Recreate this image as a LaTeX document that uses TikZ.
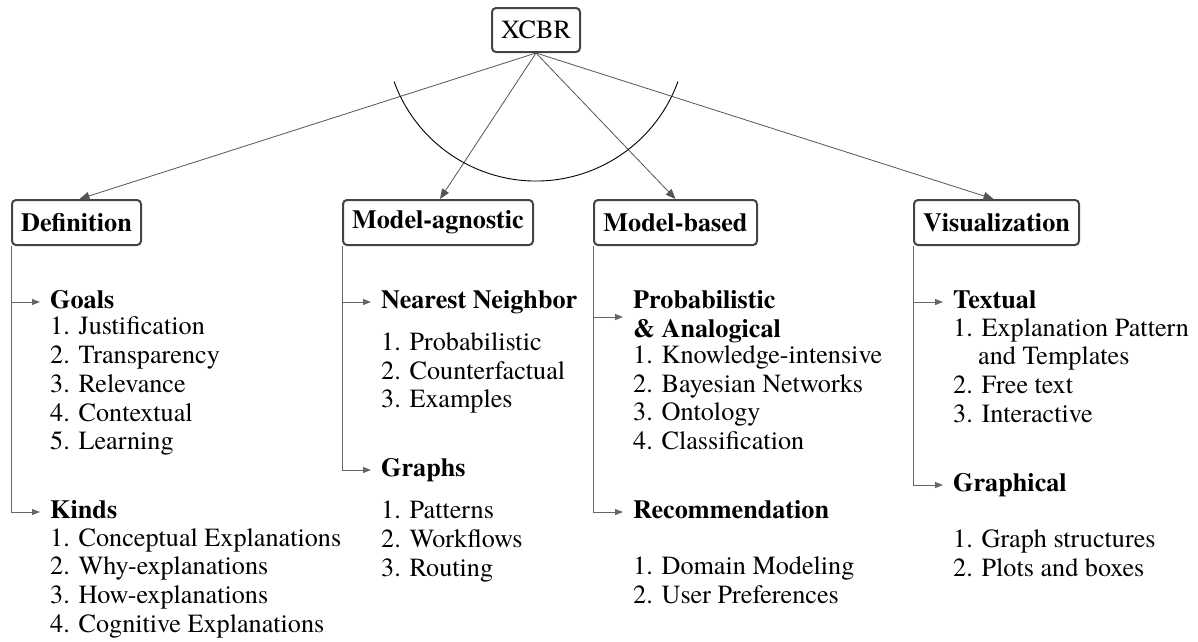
\documentclass[tikz,border=0pt]{standalone}
\usepackage{fontspec}
\setmainfont{TeX Gyre Termes}
\usetikzlibrary{arrows.meta}
\definecolor{boxc}{HTML}{444444}
\definecolor{linec}{HTML}{555555}
\definecolor{branchc}{HTML}{666666}
\newcommand{\dfont}{\fontsize{26.2}{28.7}\selectfont}
\begin{document}
\begin{tikzpicture}[x=1pt,y=-1pt,
  every node/.style={font=\dfont},
  cat/.style={draw=boxc, line width=2pt, rounded corners=4pt, minimum height=45pt, inner sep=0pt, font=\dfont\bfseries},
  head/.style={anchor=base west, inner sep=0pt, text height=18pt, text depth=6pt, font=\dfont\bfseries},
  head2/.style={anchor=west, inner sep=0pt, font=\dfont\bfseries, align=left},
  item/.style={anchor=base west, inner sep=0pt},
  topconn/.style={draw=linec, line width=0.8pt, -{Triangle[length=10pt,width=8pt]}},
  branch/.style={draw=branchc, line width=1pt, -{Triangle[length=8pt,width=6pt]}, shorten >=10pt},
  arcline/.style={draw=black, line width=0.9pt}
]
\useasboundingbox (0,0) rectangle (1198,641);

% root and categories
\node[cat, font=\dfont, minimum width=88pt, minimum height=44pt] (xcbr) at (536,30) {XCBR};
\node[cat, minimum width=129pt] (def) at (76.5,222.5) {Definition};
\node[cat, minimum width=190pt] (ma) at (438,222.5) {Model-agnostic};
\node[cat, minimum width=163pt] (mb) at (675.5,222.5) {Model-based};
\node[cat, minimum width=165pt] (vis) at (996.5,222.5) {Visualization};

\draw[topconn] (xcbr.south) -- ([xshift=3pt]def.north);
\draw[topconn] (xcbr.south) -- ([xshift=2pt]ma.north);
\draw[topconn] (xcbr.south) -- (mb.north);
\draw[topconn] (xcbr.south) -- ([xshift=-3pt]vis.north);

\draw[arcline] ([shift={(200:151pt)}]xcbr.center) arc[start angle=200, end angle=340, radius=151pt];

% Definition column
\node[head] (goals) at (50,308) {Goals};
\node[item] (g1) at (50,334) {1. Justification};
\node[item] (g2) at (50,363) {2. Transparency};
\node[item] (g3) at (50,392) {3. Relevance};
\node[item] (g4) at (50,421) {4. Contextual};
\node[item] (g5) at (50,449) {5. Learning};
\node[head] (kinds) at (50,518) {Kinds};
\node[item] (k1) at (50,546) {1. Conceptual Explanations};
\node[item] (k2) at (50,574) {2. Why-explanations};
\node[item] (k3) at (50,603) {3. How-explanations};
\node[item] (k4) at (50,632) {4. Cognitive Explanations};
\draw[branch] (def.south west) |- (goals.west);
\draw[branch] (def.south west) |- (kinds.west);

% Model-agnostic column
\node[head] (nn) at (381,308) {Nearest Neighbor};
\node[item] (n1) at (381,350) {1. Probabilistic};
\node[item] (n2) at (381,379) {2. Counterfactual};
\node[item] (n3) at (381,407) {3. Examples};
\node[head] (graphs) at (381,476) {Graphs};
\node[item] (p1) at (381,518) {1. Patterns};
\node[item] (p2) at (381,547) {2. Workflows};
\node[item] (p3) at (381,576) {3. Routing};
\draw[branch] (ma.south west) |- (nn.west);
\draw[branch] (ma.south west) |- (graphs.west);

% Model-based column
\node[head2] (prob) at (633,317) {Probabilistic\\\& Analogical};
\node[item] (b1) at (633,363) {1. Knowledge-intensive};
\node[item] (b2) at (633,392) {2. Bayesian Networks};
\node[item] (b3) at (633,420) {3. Ontology};
\node[item] (b4) at (633,449) {4. Classification};
\node[head] (rec) at (633,518) {Recommendation};
\node[item] (r1) at (633,574) {1. Domain Modeling};
\node[item] (r2) at (633,603) {2. User Preferences};
\draw[branch] (mb.south west) |- (prob.west);
\draw[branch] (mb.south west) |- (rec.west);

% Visualization column
\node[head] (textual) at (953,308) {Textual};
\node[item] (t1) at (953,336) {1. Explanation Pattern};
\node[item] (t1b) at (978,364) {and Templates};
\node[item] (t2) at (953,393) {2. Free text};
\node[item] (t3) at (953,422) {3. Interactive};
\node[head] (graphical) at (953,491) {Graphical};
\node[item] (v1) at (953,547) {1. Graph structures};
\node[item] (v2) at (953,576) {2. Plots and boxes};
\draw[branch] (vis.south west) |- (textual.west);
\draw[branch] (vis.south west) |- (graphical.west);
\end{tikzpicture}
\end{document}
